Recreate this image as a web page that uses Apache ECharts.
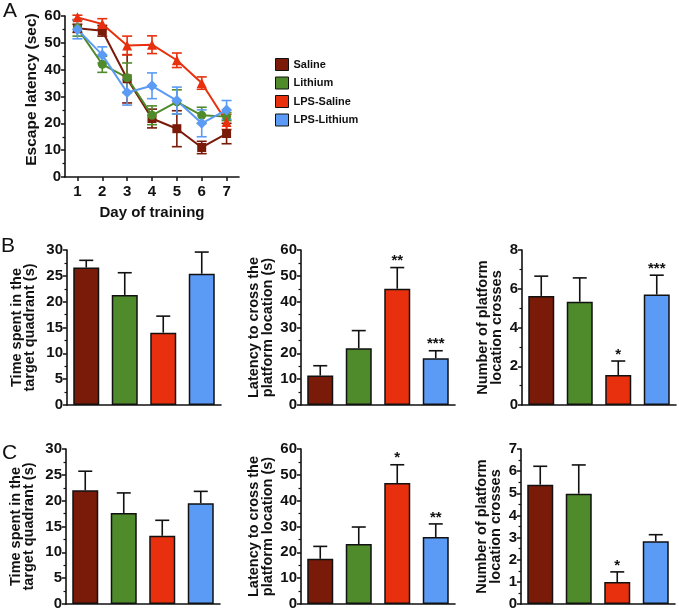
<!DOCTYPE html>
<html>
<head>
<meta charset="utf-8">
<script src="https://cdn.jsdelivr.net/npm/echarts@6/dist/echarts.min.js"></script>
<style>html,body{margin:0;padding:0;background:#fff;}#c{width:679px;height:613px;}</style>
</head>
<body>
<div id="c"></div>
<script>
// ---------- DATA ----------
const groups = ['Saline', 'Lithium', 'LPS-Saline', 'LPS-Lithium'];
const colors = ['#7A1A08', '#4F8B2B', '#E8300E', '#5B9BF5'];
const days = ['1', '2', '3', '4', '5', '6', '7'];

const salineA = [55.4, 54.5, 36.6, 21.8, 18.0, 11.0, 16.2];
const salineAErr = [1.5, 2.0, 9.0, 3.5, 6.7, 2.3, 3.8];
const lithiumA = [55.5, 42.0, 37.0, 23.0, 28.0, 23.0, 22.5];
const lithiumAErr = [3.0, 3.0, 5.5, 3.5, 4.5, 3.0, 1.5];
const lpsSalineA = [59.5, 57.0, 49.0, 49.3, 43.5, 35.0, 20.5];
const lpsSalineAErr = [0.8, 2.0, 3.5, 3.3, 2.7, 2.3, 2.8];
const lpsLithiumA = [55.0, 45.5, 31.5, 34.0, 28.5, 20.0, 25.0];
const lpsLithiumAErr = [3.5, 3.0, 4.7, 4.8, 5.0, 5.0, 3.5];

const b1Mean = [26.6, 21.3, 14.0, 25.4];
const b1Err = [1.4, 4.3, 3.2, 4.2];
const b2Mean = [11.4, 22.0, 45.0, 18.1];
const b2Err = [3.8, 6.8, 8.2, 2.9];
const b2Stars = ['', '', '**', '***'];
const b3Mean = [5.63, 5.33, 1.55, 5.70];
const b3Err = [1.02, 1.23, 0.72, 1.00];
const b3Stars = ['', '', '*', '***'];

const c1Mean = [22.0, 17.6, 13.2, 19.5];
const c1Err = [3.7, 3.9, 3.0, 2.3];
const c2Mean = [17.5, 23.2, 46.8, 25.9];
const c2Err = [4.8, 6.6, 7.1, 5.1];
const c2Stars = ['', '', '*', '**'];
const c3Mean = [5.39, 4.98, 0.99, 2.83];
const c3Err = [0.83, 1.30, 0.46, 0.30];
const c3Stars = ['', '', '*', ''];

// ---------- CHART ----------
const FONT = '"Liberation Sans", Arial, Helvetica, sans-serif';
const chart = echarts.init(document.getElementById('c'), null, {renderer: 'canvas'});

const grids = [
  {left: 65, top: 16, width: 174, height: 161},   // A
  {left: 67, top: 250, width: 154, height: 155},  // B1
  {left: 301, top: 250, width: 154, height: 155}, // B2
  {left: 522, top: 250, width: 154, height: 155}, // B3
  {left: 66, top: 449, width: 154, height: 155},  // C1
  {left: 301, top: 449, width: 154, height: 155}, // C2
  {left: 521, top: 449, width: 154, height: 155}  // C3
];

const axisLine = {show: true, lineStyle: {color: '#111', width: 1.6}};
const tickLabel = {color: '#111', fontFamily: FONT, fontWeight: 'bold', fontSize: 15, margin: 4};
const nameStyle = {color: '#111', fontFamily: FONT, fontWeight: 'bold', fontSize: 14.5, lineHeight: 14};

function yAx(gi, max, interval, name, gap, lh) {
  return {
    type: 'value', gridIndex: gi, min: 0, max: max, interval: interval,
    axisLine: axisLine,
    axisTick: {show: true, length: 4, lineStyle: {color: '#111', width: 1.5}},
    minorTick: {show: true, splitNumber: 2, length: 2.5, lineStyle: {color: '#111', width: 1.2}},
    splitLine: {show: false},
    axisLabel: tickLabel,
    name: name, nameLocation: 'middle', nameRotate: 90, nameGap: gap,
    nameTextStyle: Object.assign({}, nameStyle, lh ? {lineHeight: lh} : {})
  };
}
function xBarAx(gi) {
  return {
    type: 'category', gridIndex: gi, data: groups, boundaryGap: true,
    axisLine: axisLine, axisTick: {show: false}, axisLabel: {show: false}
  };
}

const xAxes = [
  {
    type: 'category', gridIndex: 0, data: days, boundaryGap: true,
    axisLine: axisLine,
    axisTick: {show: true, alignWithLabel: true, length: 4, lineStyle: {color: '#111', width: 1.5}},
    axisLabel: Object.assign({}, tickLabel, {margin: 7}),
    name: 'Day of training', nameLocation: 'middle', nameGap: 29,
    nameTextStyle: Object.assign({}, nameStyle, {fontSize: 15})
  },
  xBarAx(1), xBarAx(2), xBarAx(3), xBarAx(4), xBarAx(5), xBarAx(6)
];
const yAxes = [
  Object.assign(yAx(0, 60, 10, 'Escape latency (sec)', 26),
    {nameTextStyle: Object.assign({}, nameStyle, {fontSize: 15.5, padding: [0, 0, 0, 14]})}),
  yAx(1, 30, 5, 'Time spent in the\ntarget quadrant (s)', 31, 13),
  yAx(2, 60, 10, 'Latency to cross the\nplatform location (s)', 26),
  yAx(3, 8, 2, 'Number of platform\nlocation crosses', 18),
  yAx(4, 30, 5, 'Time spent in the\ntarget quadrant (s)', 31, 13),
  yAx(5, 60, 10, 'Latency to cross the\nplatform location (s)', 26),
  yAx(6, 7, 1, 'Number of platform\nlocation crosses', 18)
];

const series = [];
// Panel A lines
const aMeans = [salineA, lithiumA, lpsSalineA, lpsLithiumA];
const aErrs = [salineAErr, lithiumAErr, lpsSalineAErr, lpsLithiumAErr];
const symbols = ['rect', 'circle', 'triangle', 'diamond'];
const symSizes = [9, 9, 10, 11];
aMeans.forEach((m, g) => {
  const err = aErrs[g];
  series.push({
    type: 'custom', xAxisIndex: 0, yAxisIndex: 0, z: 3,
    data: m.map((v, i) => [i, v, err[i]]),
    renderItem: function (params, api) {
      const x = api.value(0), v = api.value(1), e = api.value(2);
      const lo = api.coord([x, v - e]), hi = api.coord([x, v + e]);
      const hw = 5;
      const st = {stroke: colors[g], lineWidth: 1.6};
      return {type: 'group', children: [
        {type: 'line', shape: {x1: lo[0], y1: lo[1], x2: hi[0], y2: hi[1]}, style: st},
        {type: 'line', shape: {x1: lo[0] - hw, y1: lo[1], x2: lo[0] + hw, y2: lo[1]}, style: st},
        {type: 'line', shape: {x1: hi[0] - hw, y1: hi[1], x2: hi[0] + hw, y2: hi[1]}, style: st}
      ]};
    },
    silent: true
  });
  series.push({
    name: groups[g], type: 'line', xAxisIndex: 0, yAxisIndex: 0, z: 4,
    data: m, symbol: symbols[g], symbolSize: symSizes[g], showSymbol: true,
    itemStyle: {color: colors[g]}, lineStyle: {color: colors[g], width: 2},
    animation: false
  });
});

// Bar panels
const panels = [
  {gi: 1, mean: b1Mean, err: b1Err, stars: null},
  {gi: 2, mean: b2Mean, err: b2Err, stars: b2Stars},
  {gi: 3, mean: b3Mean, err: b3Err, stars: b3Stars},
  {gi: 4, mean: c1Mean, err: c1Err, stars: null},
  {gi: 5, mean: c2Mean, err: c2Err, stars: c2Stars},
  {gi: 6, mean: c3Mean, err: c3Err, stars: c3Stars}
];
panels.forEach(p => {
  series.push({
    type: 'bar', xAxisIndex: p.gi, yAxisIndex: p.gi, barWidth: 26, z: 2,
    data: p.mean.map((v, i) => ({value: v, itemStyle: {color: colors[i], borderColor: '#111', borderWidth: 1.5}})),
    animation: false
  });
  series.push({
    type: 'custom', xAxisIndex: p.gi, yAxisIndex: p.gi, z: 3, silent: true,
    data: p.mean.map((v, i) => [i, v, p.err[i]]),
    renderItem: function (params, api) {
      const x = api.value(0), v = api.value(1), e = api.value(2);
      const lo = api.coord([x, v]), hi = api.coord([x, v + e]);
      const hw = 7;
      const st = {stroke: '#111', lineWidth: 1.6};
      const ch = [
        {type: 'line', shape: {x1: lo[0], y1: lo[1], x2: hi[0], y2: hi[1]}, style: st},
        {type: 'line', shape: {x1: hi[0] - hw, y1: hi[1], x2: hi[0] + hw, y2: hi[1]}, style: st}
      ];
      const s = p.stars ? p.stars[params.dataIndex] : '';
      if (s) {
        ch.push({type: 'text', style: {text: s, x: hi[0], y: hi[1] + 1, align: 'center', verticalAlign: 'bottom',
          fill: '#111', font: 'bold 15px ' + FONT}});
      }
      return {type: 'group', children: ch};
    }
  });
});

const letterStyle = {fill: '#111', font: 'normal 21px ' + FONT};
chart.setOption({
  backgroundColor: '#fff',
  animation: false,
  grid: grids,
  xAxis: xAxes,
  yAxis: yAxes,
  legend: {
    data: groups, orient: 'vertical', left: 270, top: 53,
    itemWidth: 13, itemHeight: 12, itemGap: 5.5, icon: 'rect',
    itemStyle: {borderColor: '#111', borderWidth: 1},
    textStyle: {color: '#111', fontFamily: FONT, fontWeight: 'bold', fontSize: 11, lineHeight: 12},
    selectedMode: false
  },
  graphic: [
    {type: 'text', left: 3, top: 1, style: Object.assign({text: 'A'}, letterStyle)},
    {type: 'text', left: 1, top: 236, style: Object.assign({text: 'B'}, letterStyle)},
    {type: 'text', left: 2, top: 443, style: Object.assign({text: 'C'}, letterStyle)}
  ],
  series: series
});
</script>
</body>
</html>
